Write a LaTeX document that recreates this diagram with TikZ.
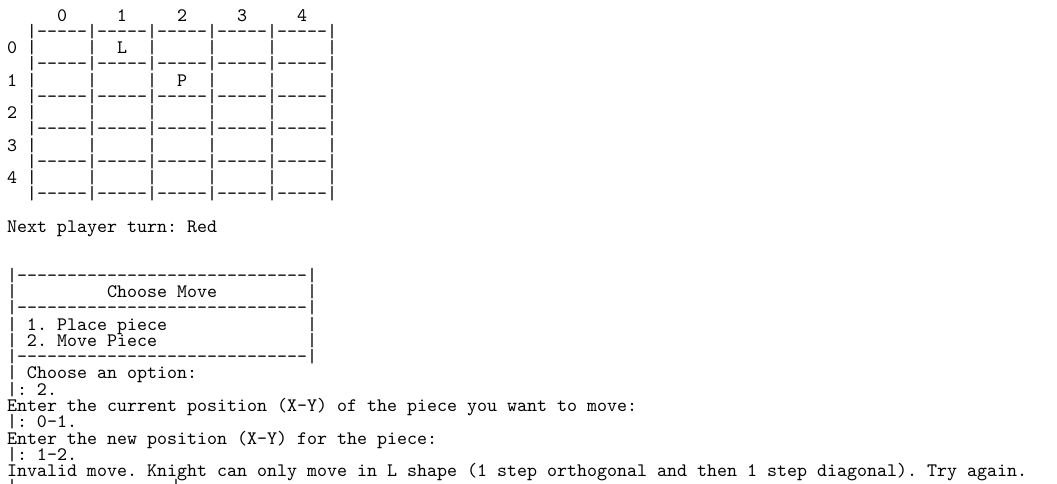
\documentclass[tikz,border=0pt]{standalone}
\usepackage{fontspec}
\setmonofont{lmmono10-regular.otf}
\tikzset{
  txt/.style={anchor=base west, inner sep=0pt, outer sep=0pt, text=black,
    font=\ttfamily\fontsize{19.05}{16}\selectfont},
}
% line #3 (0-based), column #2, name #1
\newcommand\conline[4]{\node[txt] (#1) at ({7+10*#2},{21+16.27*#3}) {#4};}
\begin{document}
\begin{tikzpicture}[x=1pt,y=-1pt]
\useasboundingbox[fill=white] (0,0) rectangle (1057,483);
% board
\conline{hdr}{5}{0}{0~~~~~1~~~~~2~~~~~3~~~~~4}
\conline{g1}{2}{1}{|-----|-----|-----|-----|-----|}
\conline{r0}{0}{2}{0~|~~~~~|~~L~~|~~~~~|~~~~~|~~~~~|}
\conline{g3}{2}{3}{|-----|-----|-----|-----|-----|}
\conline{r1}{0}{4}{1~|~~~~~|~~~~~|~~P~~|~~~~~|~~~~~|}
\conline{g5}{2}{5}{|-----|-----|-----|-----|-----|}
\conline{r2}{0}{6}{2~|~~~~~|~~~~~|~~~~~|~~~~~|~~~~~|}
\conline{g7}{2}{7}{|-----|-----|-----|-----|-----|}
\conline{r3}{0}{8}{3~|~~~~~|~~~~~|~~~~~|~~~~~|~~~~~|}
\conline{g9}{2}{9}{|-----|-----|-----|-----|-----|}
\conline{r4}{0}{10}{4~|~~~~~|~~~~~|~~~~~|~~~~~|~~~~~|}
\conline{g11}{2}{11}{|-----|-----|-----|-----|-----|}
% turn
\conline{turn}{0}{13}{Next player turn: Red}
% menu box
\conline{b16}{0}{16}{|-----------------------------|}
\conline{b17}{0}{17}{|~~~~~~~~~Choose~Move~~~~~~~~~|}
\conline{b18}{0}{18}{|-----------------------------|}
\conline{b19}{0}{19}{|~1.~Place~piece~~~~~~~~~~~~~~|}
\conline{b20}{0}{20}{|~2.~Move~Piece~~~~~~~~~~~~~~~|}
\conline{b21}{0}{21}{|-----------------------------|}
\conline{b22}{0}{22}{|~Choose~an~option:}
\conline{b23}{0}{23}{|:~2.}
\conline{b24}{0}{24}{Enter the current position (X-Y) of the piece you want to move:}
\conline{b25}{0}{25}{|:~0-1.}
\conline{b26}{0}{26}{Enter the new position (X-Y) for the piece:}
\conline{b27}{0}{27}{|:~1-2.}
\conline{b28}{0}{28}{Invalid move. Knight can only move in L shape (1 step orthogonal and then 1 step diagonal). Try again.}
\conline{b29a}{0}{29}{|}
\conline{b29b}{16.4}{29}{|}
\end{tikzpicture}
\end{document}
